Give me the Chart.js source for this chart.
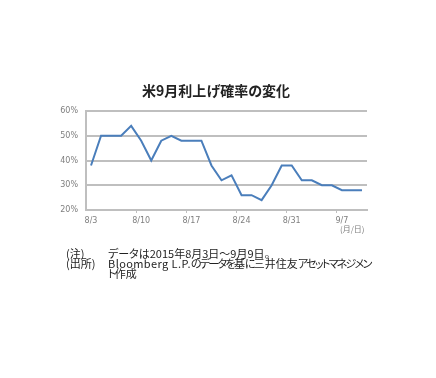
<!DOCTYPE html>
<html>
<head>
<meta charset="utf-8">
<script src="https://cdn.jsdelivr.net/npm/chart.js@4"></script>
<style>
  html, body { margin: 0; padding: 0; background: #fff; }
  #wrap { position: relative; width: 436px; height: 378px; }
  #chart { position: absolute; left: 0; top: 0; }
  .txt { position: absolute; font-family: "Noto Sans CJK JP", sans-serif; white-space: nowrap; font-feature-settings: "palt"; }
  .title { left: 0; width: 432px; top: 80px; text-align: center; font-size: 14px; font-weight: bold; color: #222; line-height: 20px; }
  .unit { font-size: 8px; color: #808080; }
  .note { font-size: 11px; color: #222; line-height: 10px; }
  .kana { letter-spacing: -1.7px; }
  .latin { letter-spacing: 0.4px; }
</style>
</head>
<body>
<div id="wrap">
  <canvas id="chart" width="436" height="378"></canvas>
  <div class="txt title">米9月利上げ確率の変化</div>
  <div class="txt unit" style="left:340px; top:223px;">(月/日)</div>
  <div class="txt note" style="left:66px; top:248px;">(注)</div>
  <div class="txt note" style="left:108px; top:248px;">データは2015年8月3日～9月9日。</div>
  <div class="txt note" style="left:66px; top:258px;">(出所)</div>
  <div class="txt note" style="left:108px; top:258px;"><span class="latin">Bloomberg L.P.</span><span class="kana">のデータを</span>基<span class="kana">に</span>三井住友<span class="kana">アセットマネジメン</span></div>
  <div class="txt note" style="left:108px; top:268px;"><span class="kana">ト</span>作成</div>
</div>
<script>
// Data (business days, Aug 3 - Sep 9, 2015)
const dates = [
    '8/3', '8/4', '8/5', '8/6', '8/7',
    '8/10', '8/11', '8/12', '8/13', '8/14',
    '8/17', '8/18', '8/19', '8/20', '8/21',
    '8/24', '8/25', '8/26', '8/27', '8/28',
    '8/31', '9/1', '9/2', '9/3', '9/4',
    '9/7', '9/8', '9/9'
];
const probability = [
    38, 50, 50, 50, 54,
    48, 40, 48, 50, 48,
    48, 48, 38, 32, 34,
    26, 26, 24, 30, 38,
    38, 32, 32, 30, 30,
    28, 28, 28
];
const yMin = 20;
const yMax = 60;
const yStep = 10;
const labelEvery = 5;

const gridGray = '#bfbfbf';
const textGray = '#7f7f7f';

const ctx = document.getElementById('chart').getContext('2d');

const chart = new Chart(ctx, {
    type: 'line',
    data: {
        labels: dates,
        datasets: [{
            data: probability,
            borderColor: '#4a7ebb',
            borderWidth: 2,
            pointRadius: 0,
            tension: 0,
            fill: false,
        }],
    },
    options: {
        responsive: false,
        animation: false,
        layout: {
            padding: { left: 50, right: 69, top: 111, bottom: 148 },
        },
        plugins: {
            legend: { display: false },
            tooltip: { enabled: false },
            title: { display: false },
        },
        scales: {
            x: {
                type: 'category',
                offset: true,
                afterFit(scale) { scale.height = 20; },
                grid: {
                    offset: true,
                    drawOnChartArea: false,
                    tickLength: 3,
                    // tick marks only between label groups
                    tickColor: (c) => (c.index % labelEvery === 0 && c.index > 0 ? gridGray : 'rgba(0,0,0,0)'),
                },
                border: { color: gridGray, width: 2 },
                ticks: {
                    autoSkip: false,
                    maxRotation: 0,
                    padding: 3,
                    color: textGray,
                    font: { family: 'Verdana, "DejaVu Sans", sans-serif', size: 8 },
                    callback(value, index) {
                        return index % labelEvery === 0 ? dates[index] : '';
                    },
                },
            },
            y: {
                min: yMin,
                max: yMax,
                afterFit(scale) { scale.width = 36; },
                grid: {
                    color: gridGray,
                    lineWidth: 2,
                    drawTicks: false,
                },
                border: { color: gridGray, width: 2 },
                ticks: {
                    stepSize: yStep,
                    padding: 8,
                    color: textGray,
                    font: { family: 'Verdana, "DejaVu Sans", sans-serif', size: 8 },
                    callback: (v) => `${v}%`,
                },
            },
        },
    },
});
</script>
</body>
</html>
